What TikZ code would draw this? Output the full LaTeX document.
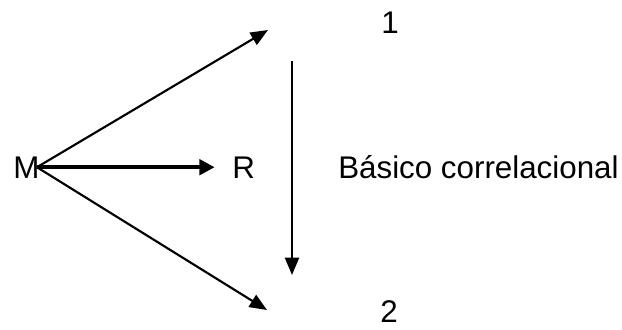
\documentclass[tikz,border=0pt]{standalone}
\usepackage{fontspec}
\setmainfont{Liberation Sans}
\usetikzlibrary{arrows.meta}
\tikzset{
  lbl/.style={inner sep=0pt, font=\fontsize{23.5}{27}\selectfont},
  flecha/.style={line width=1.6pt, -{Triangle[length=13pt,width=10.5pt]}},
  gruesa/.style={line width=3.3pt, -{Triangle[length=11.5pt,width=11.5pt]}},
}
\begin{document}
\begin{tikzpicture}[x=0.75pt,y=-0.75pt]
\useasboundingbox (0,0) rectangle (622,329);
% textos
\node[lbl, anchor=base west] (m) at (13,178) {M};
\node[lbl, anchor=base west] (r) at (232,178) {R};
\node[lbl, anchor=base west] (uno) at (381,33) {1};
\node[lbl, anchor=base west] (dos) at (380,322) {2};
\node[lbl, anchor=base west] (tipo) at (338,178) {Básico correlacional};
% puntos libres
\coordinate (o) at ([xshift=-2pt]m.east);
\coordinate (a1) at (268,30);
\coordinate (a2) at (267,310);
\coordinate (v1) at (292,61);
\coordinate (v2) at (292,275);
% flechas
\draw[flecha] (o) -- (a1);
\draw[flecha] (o) -- (a2);
\draw[gruesa, shorten >=13pt] (o) -- (r);
\draw[flecha] (v1) -- (v2);
\end{tikzpicture}
\end{document}
